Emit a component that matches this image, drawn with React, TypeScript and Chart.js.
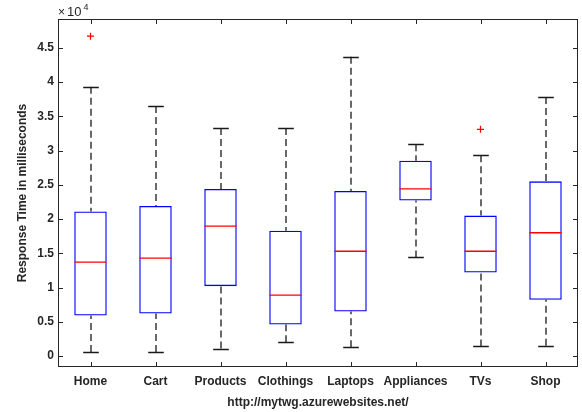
import { useEffect, useRef } from 'react';
import { Chart, registerables } from 'chart.js';

Chart.register(...registerables);

const categories = ['Home', 'Cart', 'Products', 'Clothings', 'Laptops', 'Appliances', 'TVs', 'Shop'];
const lowerWhisker = [600, 600, 1100, 2000, 1300, 14400, 1400, 1500];
const q1 = [5900, 6200, 10200, 4600, 6500, 22700, 12200, 8200];
const median = [13700, 14300, 18950, 8900, 15300, 24400, 15300, 18000];
const q3 = [21100, 21900, 24400, 18300, 24100, 28500, 20500, 25500];
const upperWhisker = [39300, 36500, 33300, 33300, 43700, 30900, 29300, 37800];
const outlierCategories = ['Home', 'TVs'];
const outlierValues = [46700, 33100];
const yTickValues = [0, 5000, 10000, 15000, 20000, 25000, 30000, 35000, 40000, 45000];
const yMin = -1600;
const yMax = 49200;

const FONT = "'Liberation Sans', Arial, Helvetica, sans-serif";
const AX = '#262626';

const boxExtras = {
  id: 'boxExtras',
  beforeDatasetsDraw(chart: any) {
    const { ctx, scales } = chart;
    const xs = scales.x;
    const ys = scales.y;
    ctx.save();
    ctx.strokeStyle = '#1a1a1a';
    ctx.lineWidth = 1.3;
    categories.forEach((_, i) => {
      const x = Math.round(xs.getPixelForValue(i));
      const capHalf = xs.getPixelForValue(i + 0.12) - xs.getPixelForValue(i);
      const yUp = ys.getPixelForValue(upperWhisker[i]);
      const yQ3 = ys.getPixelForValue(q3[i]);
      const yQ1 = ys.getPixelForValue(q1[i]);
      const yLo = ys.getPixelForValue(lowerWhisker[i]);
      ctx.setLineDash([7, 4]);
      ctx.beginPath();
      ctx.moveTo(x, yUp);
      ctx.lineTo(x, yQ3);
      ctx.moveTo(x, yLo);
      ctx.lineTo(x, yQ1);
      ctx.stroke();
      ctx.setLineDash([]);
      ctx.beginPath();
      ctx.moveTo(x - capHalf, Math.round(yUp) + 0.5);
      ctx.lineTo(x + capHalf, Math.round(yUp) + 0.5);
      ctx.moveTo(x - capHalf, Math.round(yLo) + 0.5);
      ctx.lineTo(x + capHalf, Math.round(yLo) + 0.5);
      ctx.stroke();
    });
    ctx.restore();
  },
  afterDraw(chart: any) {
    const { ctx, chartArea, scales } = chart;
    const { left, right, top, bottom } = chartArea;
    ctx.save();
    ctx.strokeStyle = AX;
    ctx.lineWidth = 1;
    ctx.strokeRect(Math.round(left) + 0.5, Math.round(top) + 0.5, Math.round(right - left) - 1, Math.round(bottom - top) - 1);
    const tl = 5;
    ctx.beginPath();
    yTickValues.forEach((v) => {
      const y = Math.round(scales.y.getPixelForValue(v)) + 0.5;
      ctx.moveTo(left, y);
      ctx.lineTo(left + tl, y);
      ctx.moveTo(right, y);
      ctx.lineTo(right - tl, y);
    });
    categories.forEach((_, i) => {
      const x = Math.round(scales.x.getPixelForValue(i)) + 0.5;
      ctx.moveTo(x, top);
      ctx.lineTo(x, top + tl);
      ctx.moveTo(x, bottom);
      ctx.lineTo(x, bottom - tl);
    });
    ctx.stroke();
    // exponent label
    ctx.fillStyle = AX;
    ctx.textBaseline = 'alphabetic';
    ctx.textAlign = 'left';
    ctx.font = `12px ${FONT}`;
    ctx.fillText('\u00d7', left, top - 3.5);
    ctx.font = `13px ${FONT}`;
    ctx.fillText('10', left + 9, top - 3.5);
    ctx.font = `9px ${FONT}`;
    ctx.fillText('4', left + 25.5, top - 9.5);
    ctx.restore();
  },
};

export default function App() {
  const ref = useRef<HTMLCanvasElement | null>(null);
  useEffect(() => {
    if (!ref.current) return;
    const chart = new Chart(ref.current, {
      type: 'bar',
      data: {
        labels: categories,
        datasets: [
          {
            type: 'bar',
            data: q1.map((v, i) => [v, q3[i]]) as any,
            backgroundColor: 'rgba(0,0,0,0)',
            borderColor: '#0000ff',
            borderWidth: 1.3,
            borderSkipped: false,
            barPercentage: 0.5,
            categoryPercentage: 1,
            order: 2,
          } as any,
          {
            type: 'line',
            data: median,
            showLine: false,
            pointStyle: 'line',
            pointRadius: 16,
            pointBorderColor: '#ff0000',
            pointBorderWidth: 1.3,
            order: 1,
          } as any,
          {
            type: 'line',
            data: outlierCategories.map((c, i) => ({ x: c, y: outlierValues[i] })),
            showLine: false,
            pointStyle: 'cross',
            pointRadius: 3.5,
            pointBorderColor: '#ff0000',
            pointBorderWidth: 1.2,
            order: 0,
          } as any,
        ],
      },
      options: {
        animation: false,
        responsive: false,
        devicePixelRatio: 1,
        layout: { autoPadding: false, padding: { left: 0, top: 19, right: 4, bottom: 0 } },
        plugins: { legend: { display: false }, tooltip: { enabled: false } },
        scales: {
          x: {
            type: 'category',
            offset: true,
            grid: { display: false, drawTicks: false },
            border: { display: false },
            ticks: {
              color: AX,
              font: { family: FONT, size: 12, weight: 'bold' },
              padding: 7,
              maxRotation: 0,
              autoSkip: false,
            },
            title: {
              display: true,
              text: 'http://mytwg.azurewebsites.net/',
              color: AX,
              font: { family: FONT, size: 12, weight: 'bold' },
              padding: { top: 0, bottom: 2 },
            },
            afterFit: (s: any) => {
              s.height = 45;
              s.paddingLeft = 0;
              s.paddingRight = 0;
            },
          },
          y: {
            type: 'linear',
            min: yMin,
            max: yMax,
            grid: { display: false, drawTicks: false },
            border: { display: false },
            afterBuildTicks: (s: any) => {
              s.ticks = yTickValues.map((v) => ({ value: v }));
            },
            ticks: {
              color: AX,
              font: { family: FONT, size: 12, weight: 'bold' },
              padding: 4,
              callback: (v: any) => String(Number(v) / 10000),
            },
            title: {
              display: true,
              text: 'Response Time in milliseconds',
              color: AX,
              font: { family: FONT, size: 12, weight: 'bold' },
              padding: { top: 15, bottom: 0 },
            },
            afterFit: (s: any) => {
              s.width = 58;
              s.paddingTop = 0;
              s.paddingBottom = 0;
            },
          },
        },
      },
      plugins: [boxExtras],
    });
    return () => chart.destroy();
  }, []);
  return (
    <div style={{ position: 'fixed', left: 0, top: 0, width: 582, height: 412, background: '#fff' }}>
      <canvas ref={ref} width={582} height={412} style={{ width: 582, height: 412, display: 'block' }} />
    </div>
  );
}
